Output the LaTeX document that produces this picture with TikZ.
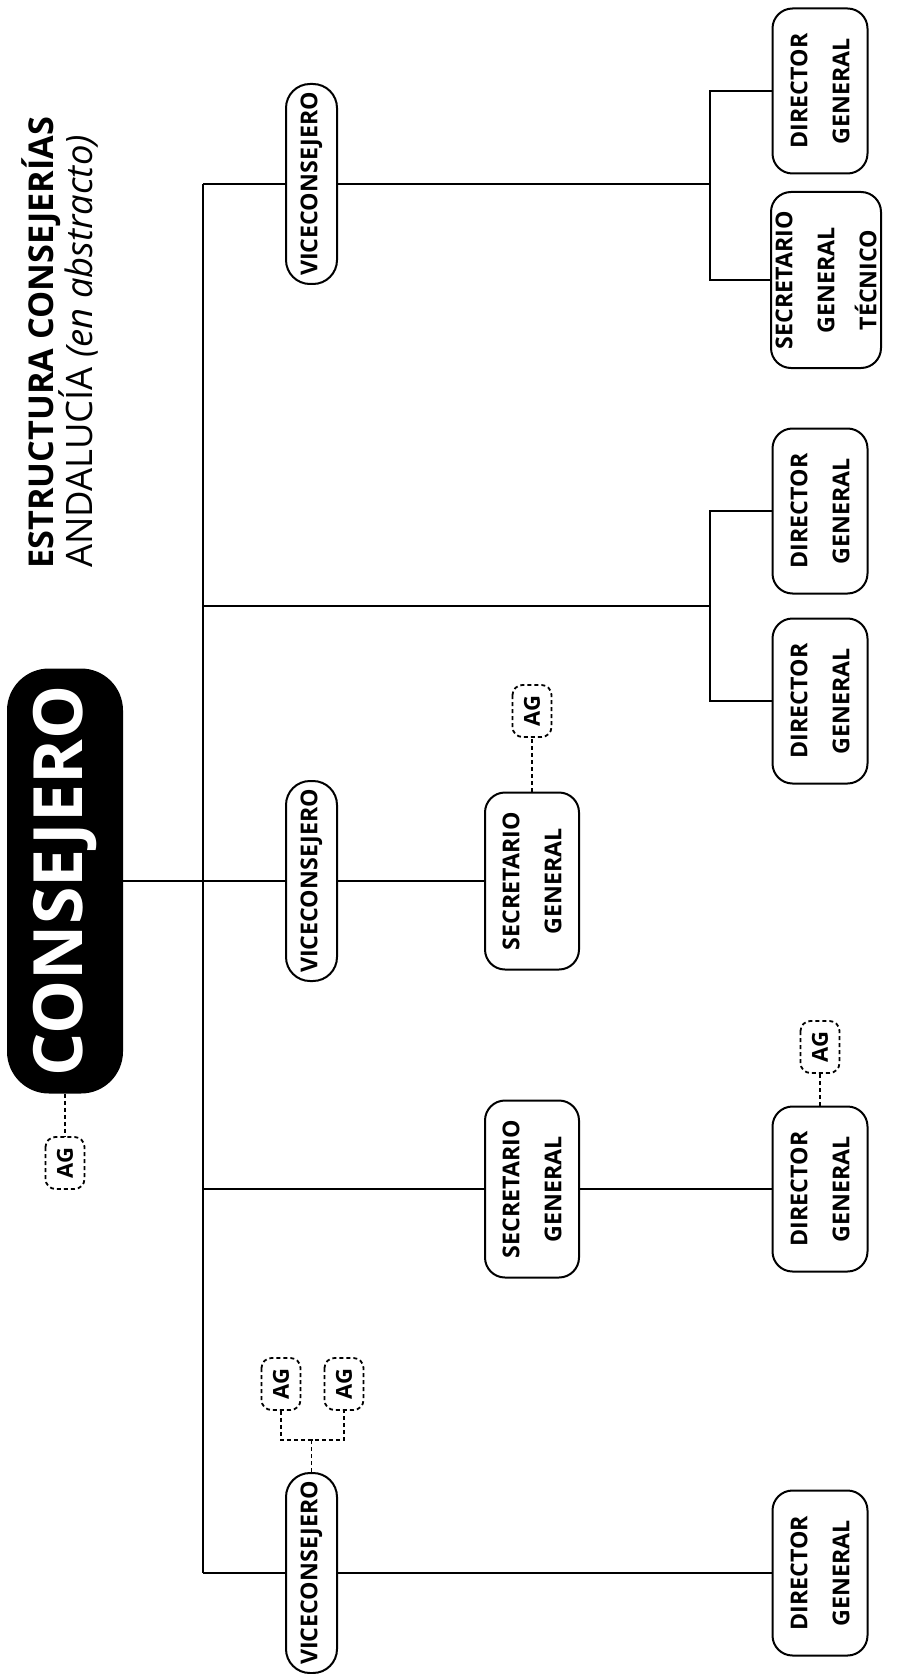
\documentclass[tikz,border=0pt]{standalone}
\usepackage{fontspec}
\setmainfont{Open Sans}
\usetikzlibrary{positioning,backgrounds}
\tikzset{
  cargo/.style={rectangle, rounded corners=10pt, draw=black, line width=1pt,
    fill=white, rotate=90, align=center, inner sep=0pt,
    font=\fontsize{11.6}{21}\selectfont\bfseries},
  dirgen/.style={cargo, minimum width=82.5pt, minimum height=47.5pt},
  secgen/.style={cargo, minimum width=88.5pt, minimum height=47pt},
  sgtec/.style={cargo, minimum width=88pt, minimum height=55pt},
  vicec/.style={cargo, rounded corners=12pt, minimum width=100pt, minimum height=25.5pt},
  jefe/.style={rectangle, rounded corners=21pt, fill=black, text=white, rotate=90,
    inner sep=0pt, minimum width=212.5pt, minimum height=58pt,
    font=\fontsize{34}{40}\selectfont\bfseries},
  asesor/.style={rectangle, rounded corners=5pt, draw=black, line width=0.9pt,
    dash pattern=on 2pt off 1.5pt, fill=white, rotate=90, inner sep=0pt,
    minimum width=26pt, minimum height=19.5pt, font=\fontsize{11}{13}\selectfont\bfseries},
  enlace/.style={line width=1pt, draw=black},
  punteado/.style={line width=0.9pt, draw=black, dash pattern=on 2pt off 1.5pt},
  titulo/.style={rotate=90, anchor=base west, inner sep=0pt},
}

\begin{document}
\begin{tikzpicture}[x=0.5pt, y=-0.5pt]
  \useasboundingbox (0,0) rectangle (910,1674);
  % titulo
  \node[titulo, font=\fontsize{17.1}{20}\selectfont\bfseries] (tit1) at (53,569) {ESTRUCTURA CONSEJERÍAS};
  \node[titulo, font=\fontsize{18.2}{20}\selectfont] (tit2) at (92,568) {ANDALUCÍA \textit{(en abstracto)}};
  % consejero
  \node[jefe] (cons) at (65,881) {CONSEJERO};
  \node[asesor] (ag0) at (65,1163) {AG};
  % rama 1
  \node[vicec] (vice1) at (311.5,184) {VICECONSEJERO};
  \node[dirgen] (dg1a) at (820,91) {DIRECTOR\\GENERAL};
  \node[sgtec] (sgt) at (826,280) {SECRETARIO\\GENERAL\\TÉCNICO};
  % rama 2
  \node[dirgen] (dg2a) at (820,511) {DIRECTOR\\GENERAL};
  \node[dirgen] (dg2b) at (820,701) {DIRECTOR\\GENERAL};
  % rama 3
  \node[vicec] (vice2) at (311.5,881) {VICECONSEJERO};
  \node[secgen] (sg3) at (532,881) {SECRETARIO\\GENERAL};
  \node[asesor] (ag3) at (532,711) {AG};
  % rama 4
  \node[secgen] (sg4) at (532,1189) {SECRETARIO\\GENERAL};
  \node[dirgen] (dg4) at (820,1189) {DIRECTOR\\GENERAL};
  \node[asesor] (ag4) at (820,1047) {AG};
  % rama 5
  \node[vicec] (vice5) at (311.5,1573) {VICECONSEJERO};
  \node[dirgen] (dg5) at (820,1573) {DIRECTOR\\GENERAL};
  \node[asesor] (ag5a) at (281,1384) {AG};
  \node[asesor] (ag5b) at (344,1384) {AG};

  \coordinate (eje1) at (203,184);
  \coordinate (eje5) at (203,1573);
  \coordinate (eje2) at (203,606);
  \coordinate (eje4) at (203,1189);
  \coordinate (nudo1) at (710,184);
  \coordinate (nudo2) at (710,606);
  \coordinate (nudo5) at (311.5,1440);

  \begin{scope}[on background layer]
    \draw[enlace] (eje1) -- (eje5);
    \draw[enlace] (cons.south) -- (sg3.north);
    \draw[enlace] (eje1) -- (nudo1);
    \draw[enlace] (nudo1) |- (dg1a.north);
    \draw[enlace] (nudo1) |- (sgt.north);
    \draw[enlace] (eje2) -- (nudo2);
    \draw[enlace] (nudo2) |- (dg2a.north);
    \draw[enlace] (nudo2) |- (dg2b.north);
    \draw[enlace] (eje4) -- (sg4.north);
    \draw[enlace] (sg4.south) -- (dg4.north);
    \draw[enlace] (eje5) -- (dg5.north);
    \draw[punteado] (cons.west) -- (ag0.east);
    \draw[punteado] (sg3.east) -- (ag3.west);
    \draw[punteado] (dg4.east) -- (ag4.west);
    \draw[punteado] (vice5.east) -- (nudo5);
    \draw[punteado] (ag5a.west) |- (nudo5) -| (ag5b.west);
  \end{scope}
\end{tikzpicture}
\end{document}
